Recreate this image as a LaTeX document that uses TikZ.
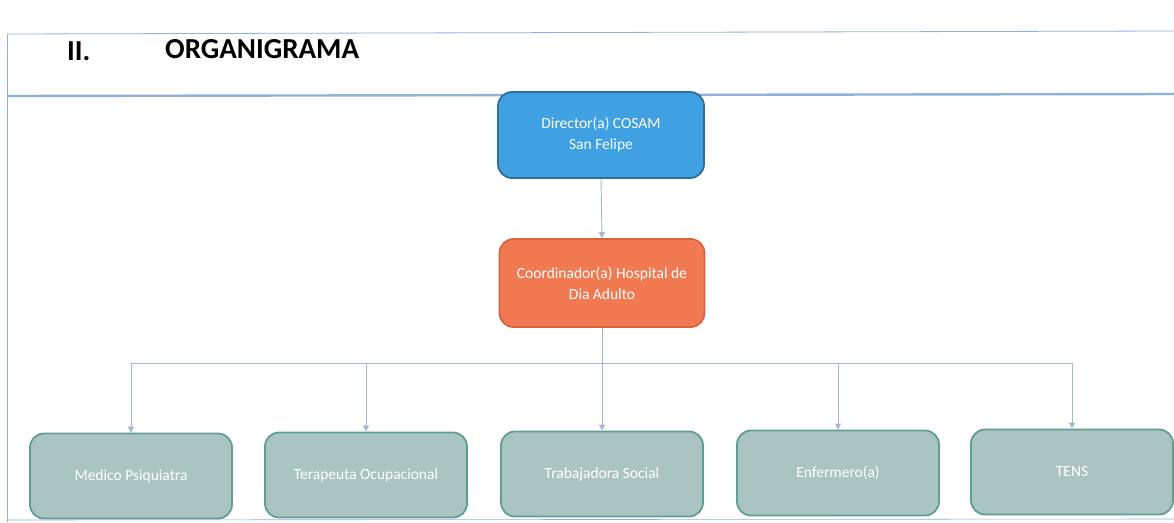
\documentclass[tikz,border=0pt]{standalone}
\usepackage{fontspec}
\setmainfont{Carlito}
\usetikzlibrary{arrows.meta}
\definecolor{frameblue}{HTML}{8FB2DD}
\definecolor{dirfill}{HTML}{3FA0E2}
\definecolor{dirdraw}{HTML}{2F6F9C}
\definecolor{coofill}{HTML}{F27A52}
\definecolor{coodraw}{HTML}{D8643E}
\definecolor{stafffill}{HTML}{AAC5C0}
\definecolor{staffdraw}{HTML}{5E9E94}
\definecolor{linkcol}{HTML}{A3B7CE}
\tikzset{
  boxbase/.style={rounded corners=14pt, line width=1.8pt, align=center, text=white, font=\fontsize{15.5}{21}\selectfont},
  dirbox/.style={boxbase, fill=dirfill, draw=dirdraw, minimum width=206pt, minimum height=86pt},
  coobox/.style={boxbase, fill=coofill, draw=coodraw, minimum width=205pt, minimum height=88pt},
  staffbox/.style={boxbase, fill=stafffill, draw=staffdraw, minimum width=202pt, minimum height=85pt, font=\fontsize{15.5}{19}\selectfont},
  link/.style={draw=linkcol, line width=0.9pt, -{Triangle[width=6pt,length=6pt]}},
  frameline/.style={draw=frameblue, line width=0.8pt}
}
\begin{document}
\begin{tikzpicture}[x=1pt,y=-1pt]
\useasboundingbox[fill=white] (0,0) rectangle (1174,522);
% frame
\draw[frameline] (7,34) -- (1174,31);
\draw[frameline] (7,34) -- (7,522);
\draw[frameline, line width=2.4pt] (7,96) -- (1174,94);
\draw[frameline, line width=0.6pt] (7,520) -- (1174,519);
% title
\node[anchor=base west, font=\bfseries\fontsize{29}{34}\selectfont, inner sep=0pt] (num) at (67,60) {II.};
\node[anchor=base west, font=\bfseries\fontsize{29}{34}\selectfont, inner sep=0pt] (title) at (165,58) {ORGANIGRAMA};
% boxes
\node[dirbox] (dir) at (601,135) {Director(a) COSAM\\San Felipe};
\node[coobox] (coo) at (602,283) {Coordinador(a) Hospital de\\Dia Adulto};
\node[staffbox] (s1) at (131,476) {Medico Psiquiatra};
\node[staffbox] (s2) at (366,475) {Terapeuta Ocupacional};
\node[staffbox] (s3) at (602,474) {Trabajadora Social};
\node[staffbox] (s4) at (838,473) {Enfermero(a)};
\node[staffbox] (s5) at (1072,472) {TENS};
% connectors
\draw[link] (dir.south) -- (coo.north);
\coordinate (hub) at (602,363);
\draw[draw=linkcol, line width=0.9pt] (coo.south) -- (hub);
\foreach \n in {s1,s2,s3,s4,s5}{
  \draw[link] (hub) -| (\n.north);
}
\end{tikzpicture}
\end{document}
